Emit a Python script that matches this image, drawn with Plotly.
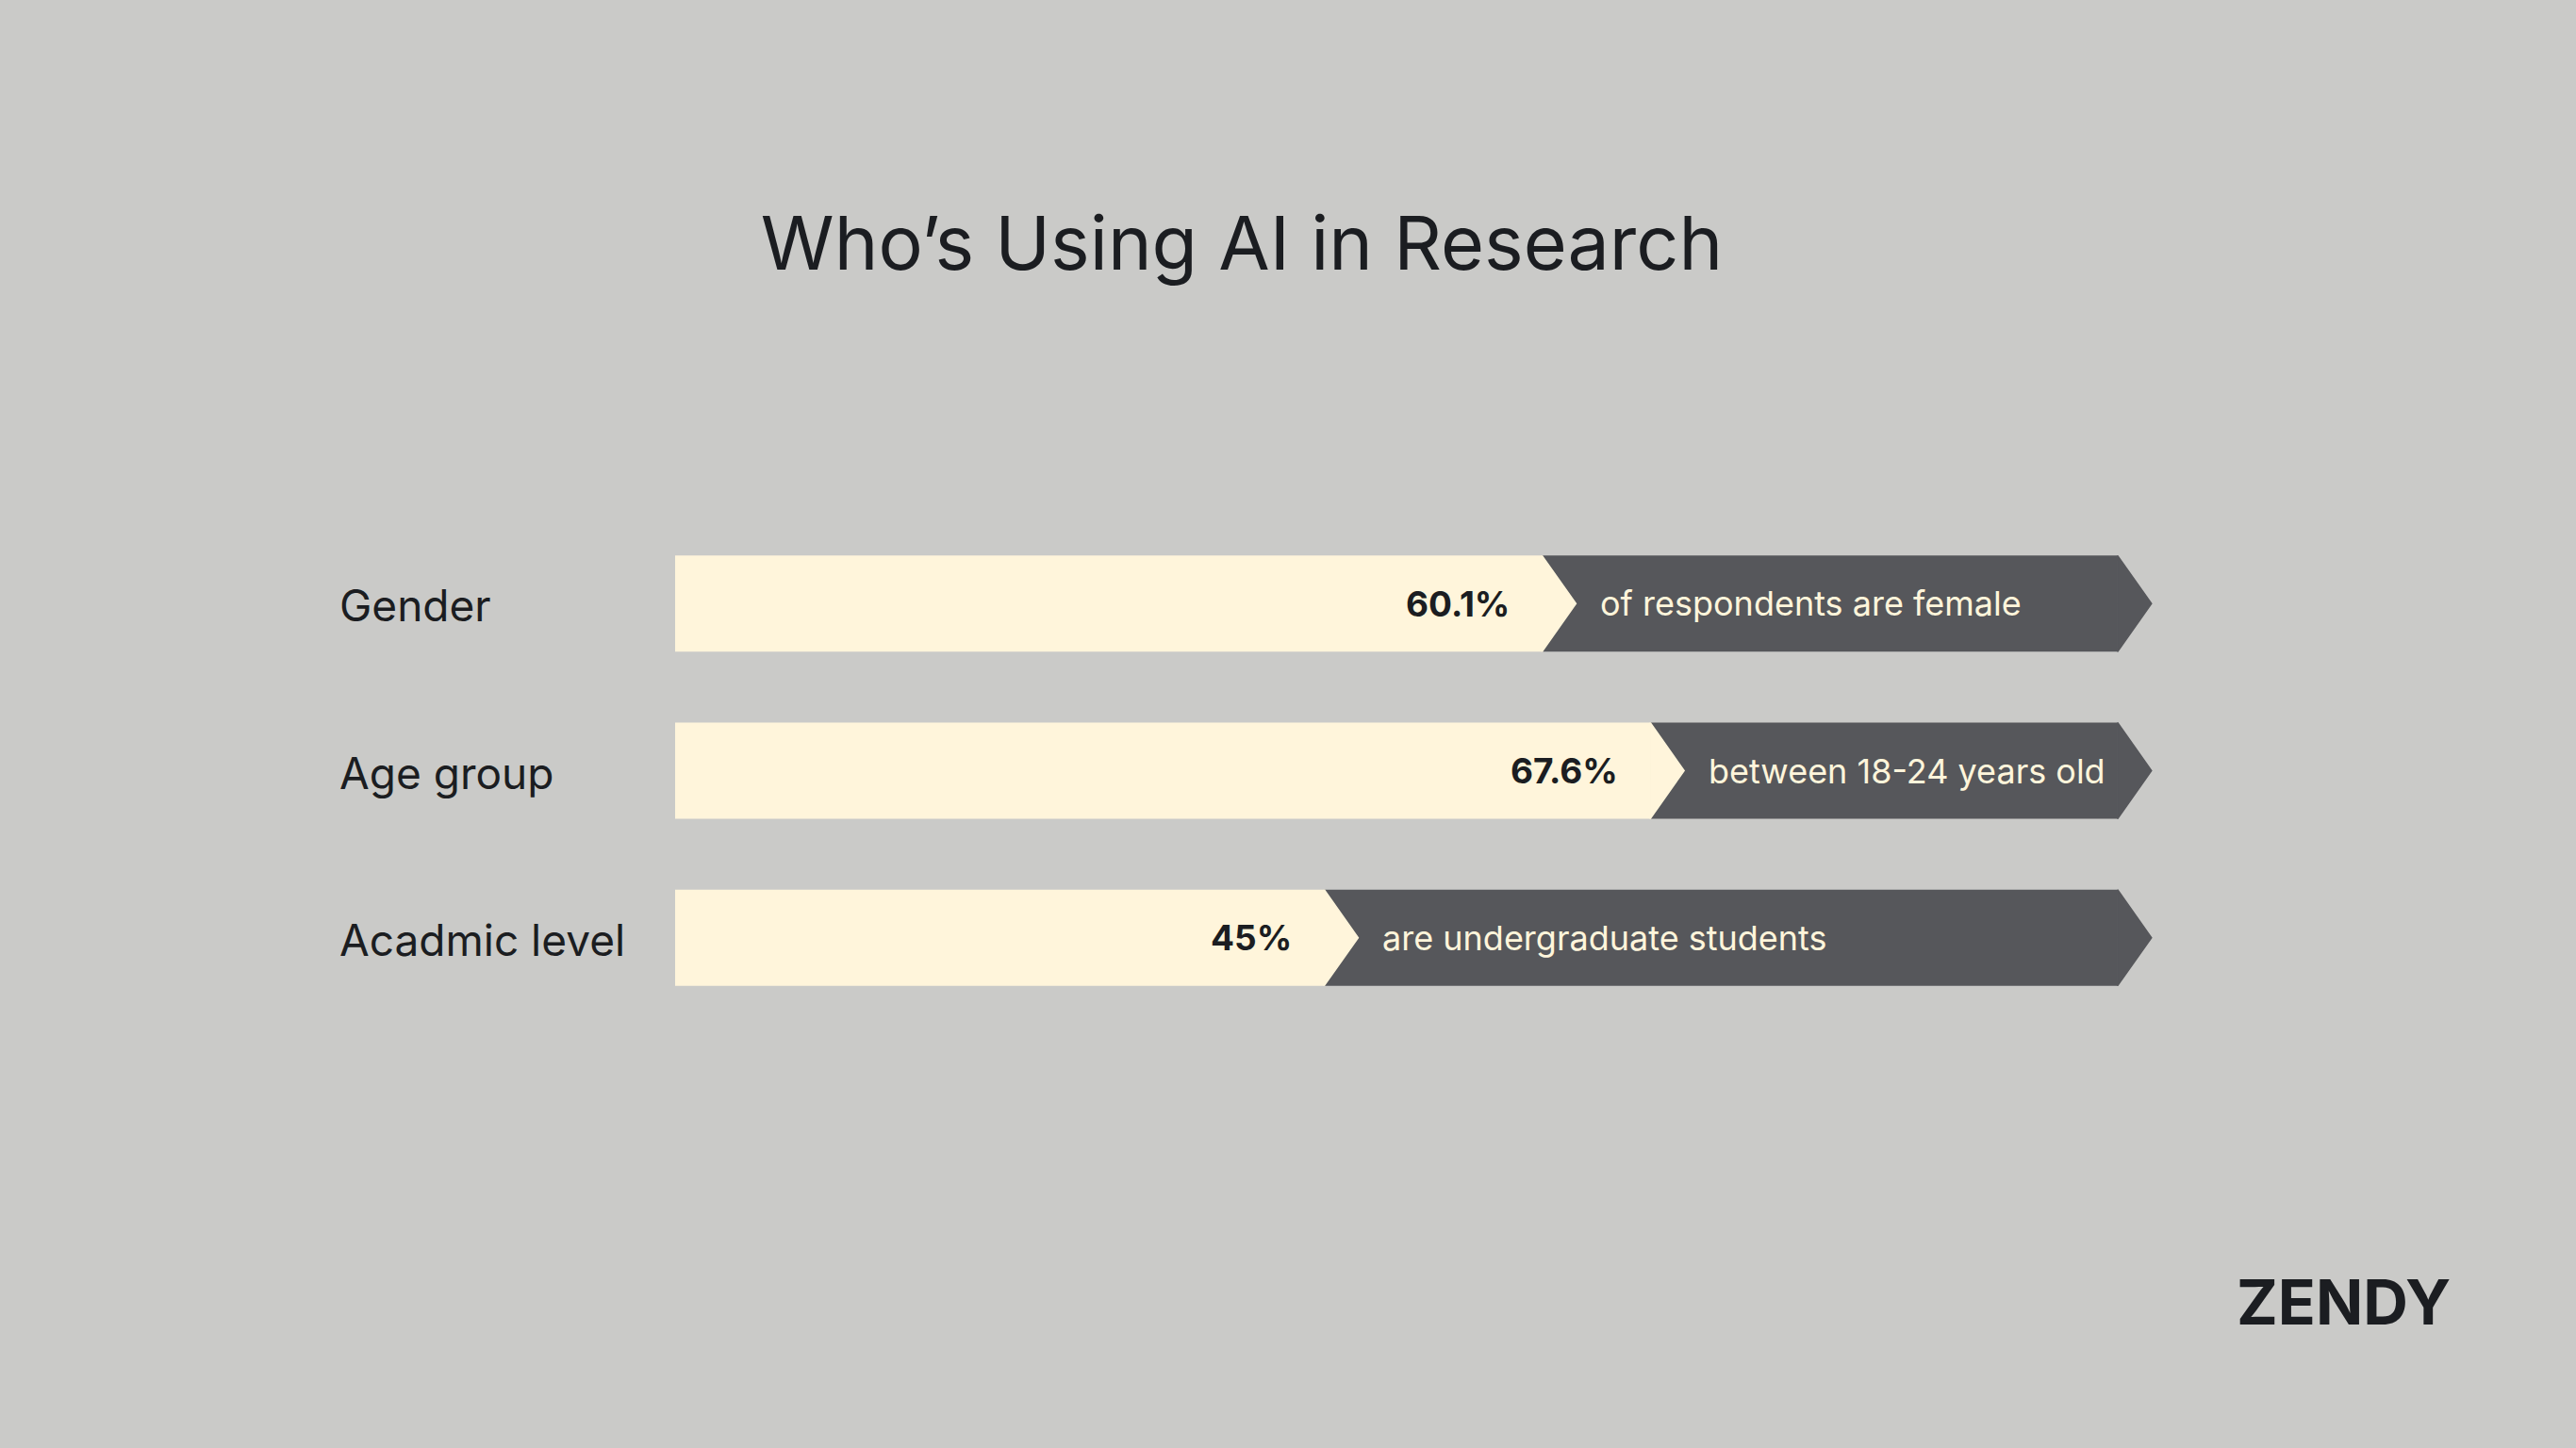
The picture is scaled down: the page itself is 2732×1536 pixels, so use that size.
import plotly.graph_objects as go

# ---- data ----
categories = ["Gender", "Age group", "Acadmic level"]
values = [60.1, 67.6, 45.0]
value_labels = ["60.1%", "67.6%", "45%"]
descriptions = ["of respondents are female", "between 18-24 years old", "are undergraduate students"]
total = 100.0
title_text = "Who’s Using AI in Research"
brand = "ZENDY"

# ---- styling / geometry ----
FW, FH = 2732, 1536
L = 716                 # pixel of x = 0
PX_PER_UNIT = 15.3      # pixels per percentage point
XMAX = 104.0
PW = XMAX * PX_PER_UNIT
R = FW - L - PW
ROW_PX = 177.3
YMIN, YMAX = -0.6, 2.6
PH = (YMAX - YMIN) * ROW_PX
T = 640 - (0 - YMIN) * ROW_PX
B = FH - T - PH
BAR_W = 102 / ROW_PX
TIP = 36 / PX_PER_UNIT

CREAM = "#FFF5DB"
DARK = "#56575B"
INK = "#1B1D21"
BG = "#CACAC8"
FONT = "Inter"

ypos = list(range(len(categories)))

fig = go.Figure()

# dark remainder bars
fig.add_trace(go.Bar(
    orientation="h", y=ypos, x=[total - v for v in values], base=values,
    width=BAR_W, marker=dict(color=DARK, line=dict(width=0)),
    hoverinfo="skip", showlegend=False))
# cream value bars
fig.add_trace(go.Bar(
    orientation="h", y=ypos, x=values, base=[0] * len(values),
    width=BAR_W, marker=dict(color=CREAM, line=dict(width=0)),
    hoverinfo="skip", showlegend=False))

h = BAR_W / 2
for yi, v in zip(ypos, values):
    # dark arrow tip at the end of the total
    fig.add_trace(go.Scatter(
        x=[total, total + TIP, total, total], y=[yi - h, yi, yi + h, yi - h],
        mode="lines", fill="toself", fillcolor=DARK, line=dict(width=1.5, color=DARK),
        hoverinfo="skip", showlegend=False))
    # cream arrow tip at the value
    fig.add_trace(go.Scatter(
        x=[v, v + TIP, v, v], y=[yi - h, yi, yi + h, yi - h],
        mode="lines", fill="toself", fillcolor=CREAM, line=dict(width=1.5, color=CREAM),
        hoverinfo="skip", showlegend=False))

annotations = []
for yi, v, vl, d, c in zip(ypos, values, value_labels, descriptions, categories):
    annotations.append(dict(
        x=v, y=yi, xref="x", yref="y", text=f"<b>{vl}</b>", showarrow=False,
        xanchor="right", yanchor="middle", xshift=-32,
        font=dict(family=FONT, size=37, color=INK)))
    annotations.append(dict(
        x=v, y=yi, xref="x", yref="y", text=d, showarrow=False,
        xanchor="left", yanchor="middle", xshift=60,
        font=dict(family=FONT, size=36, color=CREAM)))
    annotations.append(dict(
        x=(358 - L) / PW, y=yi, xref="paper", yref="y", text=c, showarrow=False,
        xanchor="left", yanchor="middle", yshift=-2,
        font=dict(family=FONT, size=46, color=INK)))

# brand mark
annotations.append(dict(
    x=(2486 - L) / PW, y=(T + PH - 1381) / PH, xref="paper", yref="paper",
    text=f"<b>{brand}</b>", showarrow=False, xanchor="center", yanchor="middle",
    font=dict(family=FONT, size=66, color=INK, weight=900)))

fig.update_layout(
    width=FW, height=FH,
    margin=dict(l=L, r=R, t=T, b=B, pad=0),
    paper_bgcolor=BG, plot_bgcolor=BG,
    barmode="overlay",
    title=dict(text=title_text, x=1317 / FW, y=1 - 258 / FH, xref="container", yref="container",
               xanchor="center", yanchor="middle",
               font=dict(family=FONT, size=79, color=INK)),
    xaxis=dict(range=[0, XMAX], visible=False, fixedrange=True),
    yaxis=dict(range=[YMAX, YMIN], visible=False, fixedrange=True),
    annotations=annotations,
    showlegend=False,
)

fig.write_html("out.html", config={"displayModeBar": False},
               post_script="document.body.style.margin='0';document.body.style.overflow='hidden';")
